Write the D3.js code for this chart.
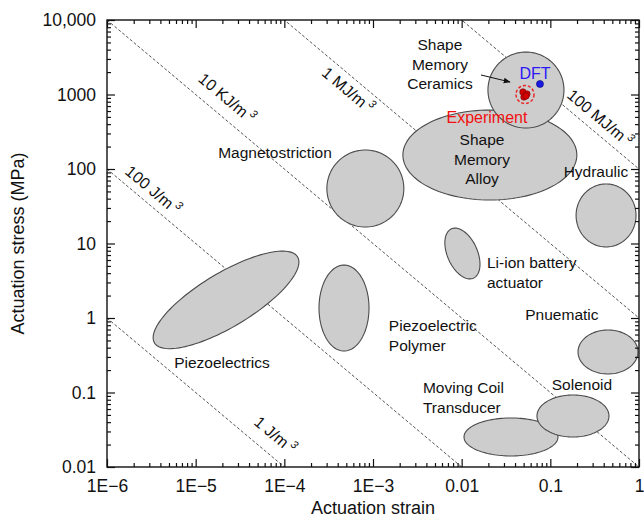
<!DOCTYPE html>
<html><head><meta charset="utf-8">
<script src="https://cdn.jsdelivr.net/npm/d3@7"></script>
<style>
html,body{margin:0;padding:0;background:#fff;}
svg{display:block;font-family:"Liberation Sans",Arial,Helvetica,sans-serif;}
</style></head>
<body><svg id="c" width="644" height="524"></svg>
<script>
// ---------- data ----------
const xTickVals = [1e-6, 1e-5, 1e-4, 1e-3, 0.01, 0.1, 1];
const xTickLabels = ["1E\u22126", "1E\u22125", "1E\u22124", "1E\u22123", "0.01", "0.1", "1"];
const yTickVals = [0.01, 0.1, 1, 10, 100, 1000, 10000];
const yTickLabels = ["0.01", "0.1", "1", "10", "100", "1000", "10,000"];

// energy density iso-lines (MJ/m^3 = MPa * strain)
const energyLevels = [1e-6, 1e-4, 1e-2, 1, 100];
const energyLabels = ["1 J/m", "100 J/m", "10 KJ/m", "1 MJ/m", "100 MJ/m"];
const energyLabelStrain = [7.85e-5, 3.30e-6, 2.25e-5, 5.22e-4, 0.363];
const energyLabelStress = [0.0269, 52.2, 898, 1148, 484];

// actuator regions: centre (strain, stress) and conjugate semi-axes in decades (log10 units)
const regionNames = ["Piezoelectrics", "Magnetostriction", "Shape Memory Alloy", "Shape Memory Ceramics",
  "Hydraulic", "Li-ion battery actuator", "Piezoelectric Polymer", "Pnuematic", "Moving Coil Transducer", "Solenoid"];
const regionStrain = [2.2e-5, 8.2e-4, 0.0208, 0.0531, 0.425, 0.0102, 4.71e-4, 0.447, 0.036, 0.18];
const regionStress = [1.75, 54.7, 154, 1148, 23.8, 7.34, 1.36, 0.35, 0.0253, 0.0484];
const regionU = [[0.807, 0.577], [0.434, 0], [0.981, 0], [0.4286, 0], [0.338, 0], [-0.124, 0.331], [0.282, 0], [0.338, 0], [0.530, 0], [0.406, 0]];
const regionV = [[0.157, -0.310], [0, 0.517], [0, 0.604], [0, 0.510], [0, 0.423], [0.1545, 0.082], [0, 0.577], [0, 0.295], [0, 0.255], [0, 0.282]];

// region text labels (anchor strain, stress, lines, anchor)
const labelLines = [["Shape", "Memory", "Ceramics"], ["Shape", "Memory", "Alloy"], ["Magnetostriction"], ["Hydraulic"],
  ["Li-ion battery", "actuator"], ["Pnuematic"], ["Piezoelectric", "Polymer"], ["Piezoelectrics"], ["Moving Coil", "Transducer"], ["Solenoid"]];
const labelStrain = [0.00569, 0.01694, 7.85e-5, 0.327, 0.0193, 0.135, 0.00151, 1.98e-5, 0.00366, 0.227];
const labelStress = [4613, 245, 164, 91, 5.47, 1.10, 0.78, 0.256, 0.115, 0.126];
const labelAnchor = ["middle", "middle", "middle", "middle", "start", "middle", "start", "middle", "start", "middle"];

// DFT and experiment points
const dftStrain = [0.0764];
const dftStress = [1383];
const expStrain = [0.0491, 0.0545, 0.0504, 0.0531];
const expStress = [1081, 1016, 926, 955];
const expCentre = [0.0518, 1000];
const dftLabelPos = [0.0671, 1946];
const expLabelPos = [0.0193, 499];
const arrowFrom = [0.0165, 1828];
const arrowTo = [0.0351, 1472];

// ---------- chart ----------
const svg = d3.select("#c");
const L = 107, R = 639, T = 20, B = 467;
const x = d3.scaleLog().domain([1e-6, 1]).range([L, R]);
const y = d3.scaleLog().domain([0.01, 10000]).range([B, T]);

svg.append("rect").attr("width", 644).attr("height", 524).attr("fill", "#fff");

const defs = svg.append("defs");
defs.append("clipPath").attr("id", "clip").append("rect")
  .attr("x", L).attr("y", T).attr("width", R - L).attr("height", B - T);
defs.append("marker").attr("id", "arr").attr("viewBox", "0 0 10 10").attr("refX", 9).attr("refY", 5)
  .attr("markerWidth", 7).attr("markerHeight", 7).attr("orient", "auto")
  .append("path").attr("d", "M0,1 L10,5 L0,9 z").attr("fill", "#111");

const plot = svg.append("g").attr("clip-path", "url(#clip)");

// iso-energy lines
energyLevels.forEach(e => {
  const xs = [1e-6, 1];
  plot.append("line")
    .attr("x1", x(xs[0])).attr("y1", y(e / xs[0]))
    .attr("x2", x(xs[1])).attr("y2", y(e / xs[1]))
    .attr("stroke", "#555").attr("stroke-width", 1).attr("stroke-dasharray", "3,2");
});
const ang = Math.atan2(y(1e-3) - y(1e-2), x(1e-2) - x(1e-3)) * 180 / Math.PI;
energyLabels.forEach((t, i) => {
  const tx = svg.append("text")
    .attr("transform", `translate(${x(energyLabelStrain[i])},${y(energyLabelStress[i])}) rotate(${ang})`)
    .attr("text-anchor", "middle").attr("dy", "0.35em")
    .attr("font-size", 16).attr("fill", "#111");
  tx.append("tspan").text(t);
  tx.append("tspan").attr("font-size", 11).attr("dx", 3).attr("dy", -7).attr("font-style", "italic").text("3");
});

// regions
const line = d3.line().curve(d3.curveLinearClosed);
const tt = d3.range(0, 2 * Math.PI, Math.PI / 60);
regionNames.forEach((n, i) => {
  const cx = Math.log10(regionStrain[i]), cy = Math.log10(regionStress[i]);
  const u = regionU[i], v = regionV[i];
  const pts = tt.map(t => [
    x(Math.pow(10, cx + Math.cos(t) * u[0] + Math.sin(t) * v[0])),
    y(Math.pow(10, cy + Math.cos(t) * u[1] + Math.sin(t) * v[1]))
  ]);
  plot.append("path").attr("d", line(pts))
    .attr("fill", "#cdcdcd").attr("stroke", "#4a4a4a").attr("stroke-width", 1.1);
});

// experiment + DFT
plot.append("circle").attr("cx", x(expCentre[0])).attr("cy", y(expCentre[1])).attr("r", 9)
  .attr("fill", "none").attr("stroke", "#ee1c1c").attr("stroke-width", 1.4).attr("stroke-dasharray", "3,2");
expStrain.forEach((s, i) => {
  plot.append("circle").attr("cx", x(s)).attr("cy", y(expStress[i])).attr("r", 3.2)
    .attr("fill", "#d40000").attr("stroke", "#7a0000").attr("stroke-width", 0.6);
});
dftStrain.forEach((s, i) => {
  plot.append("circle").attr("cx", x(s)).attr("cy", y(dftStress[i])).attr("r", 3.5)
    .attr("fill", "#1a1ae6").attr("stroke", "#000066").attr("stroke-width", 0.6);
});
svg.append("text").attr("x", x(dftLabelPos[0])).attr("y", y(dftLabelPos[1])).attr("dy", "0.35em")
  .attr("text-anchor", "middle").attr("font-size", 16).attr("fill", "#2b18f5").text("DFT");
svg.append("text").attr("x", x(expLabelPos[0])).attr("y", y(expLabelPos[1])).attr("dy", "0.35em")
  .attr("text-anchor", "middle").attr("font-size", 16).attr("fill", "#f21010").text("Experiment");
svg.append("line").attr("x1", x(arrowFrom[0])).attr("y1", y(arrowFrom[1]))
  .attr("x2", x(arrowTo[0])).attr("y2", y(arrowTo[1]))
  .attr("stroke", "#111").attr("stroke-width", 1).attr("marker-end", "url(#arr)");

// region labels
labelLines.forEach((lines, i) => {
  const g = svg.append("text").attr("font-size", 15.5).attr("fill", "#111")
    .attr("text-anchor", labelAnchor[i]);
  lines.forEach((ln, j) => {
    g.append("tspan").attr("x", x(labelStrain[i])).attr("y", y(labelStress[i]) + j * 19.5)
      .attr("dy", "0.35em").text(ln);
  });
});

// axes
const xMinor = x.ticks().filter(v => !xTickVals.some(m => Math.abs(m - v) / m < 1e-6));
const yMinor = y.ticks().filter(v => !yTickVals.some(m => Math.abs(m - v) / m < 1e-6));
function style(g) { g.select(".domain").remove(); g.selectAll("line").attr("stroke", "#111").attr("stroke-width", 1.2); }

const bx = svg.append("g").attr("transform", `translate(0,${B})`)
  .call(d3.axisBottom(x).tickValues(xTickVals).tickFormat((d, i) => xTickLabels[i]).tickSize(-8).tickPadding(13))
  .call(style);
bx.selectAll("text").attr("font-size", 17.5).attr("fill", "#111").attr("font-family", "Liberation Sans, Arial, sans-serif");
svg.append("g").attr("transform", `translate(0,${B})`)
  .call(d3.axisBottom(x).tickValues(xMinor).tickFormat("").tickSize(-4)).call(style);
svg.append("g").attr("transform", `translate(0,${T})`)
  .call(d3.axisTop(x).tickValues(xTickVals).tickFormat("").tickSize(-8)).call(style);
svg.append("g").attr("transform", `translate(0,${T})`)
  .call(d3.axisTop(x).tickValues(xMinor).tickFormat("").tickSize(-4)).call(style);

const ly = svg.append("g").attr("transform", `translate(${L},0)`)
  .call(d3.axisLeft(y).tickValues(yTickVals).tickFormat((d, i) => yTickLabels[i]).tickSize(-8).tickPadding(11))
  .call(style);
ly.selectAll("text").attr("font-size", 17.5).attr("fill", "#111").attr("font-family", "Liberation Sans, Arial, sans-serif");
svg.append("g").attr("transform", `translate(${L},0)`)
  .call(d3.axisLeft(y).tickValues(yMinor).tickFormat("").tickSize(-4)).call(style);
svg.append("g").attr("transform", `translate(${R},0)`)
  .call(d3.axisRight(y).tickValues(yTickVals).tickFormat("").tickSize(-8)).call(style);
svg.append("g").attr("transform", `translate(${R},0)`)
  .call(d3.axisRight(y).tickValues(yMinor).tickFormat("").tickSize(-4)).call(style);

svg.append("rect").attr("x", L).attr("y", T).attr("width", R - L).attr("height", B - T)
  .attr("fill", "none").attr("stroke", "#111").attr("stroke-width", 1.4);

svg.append("text").attr("x", (L + R) / 2).attr("y", 514).attr("text-anchor", "middle")
  .attr("font-size", 18).attr("fill", "#111").text("Actuation strain");
svg.append("text").attr("transform", `translate(24,${(T + B) / 2}) rotate(-90)`).attr("text-anchor", "middle")
  .attr("font-size", 18).attr("fill", "#111").text("Actuation stress (MPa)");
</script></body></html>
